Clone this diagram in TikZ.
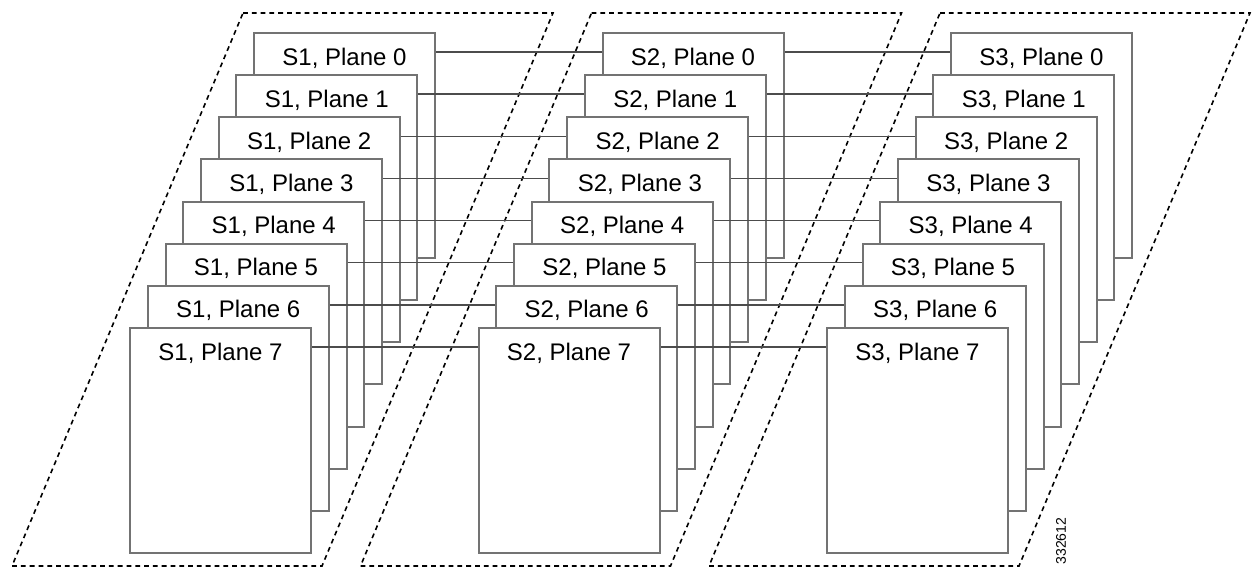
\documentclass[tikz,border=0pt]{standalone}
\usepackage{fontspec}
\setmainfont{Liberation Sans}
\usepackage{tikz}

\begin{document}
\begin{tikzpicture}[x=0.5pt, y=-0.5pt,
    plane/.style={draw=black!55, line width=1pt, fill=white, anchor=north west,
        minimum width=90.5pt, text height=16pt, text depth=96.5pt, inner ysep=0pt,
        font=\fontsize{12}{14}\selectfont},
    link/.style={draw=black!70, line width=0.75pt},
    zone/.style={draw=black, line width=0.8pt, dash pattern=on 2.4pt off 2pt}]
    \useasboundingbox (0,0) rectangle (1254,569);

    % Dashed stage outlines
    \draw[zone] (243,13) -- (553,13) -- (322,566) -- (12,566) -- cycle;
    \draw[zone] (591.5,13) -- (901.5,13) -- (670.5,566) -- (360.5,566) -- cycle;
    \draw[zone] (940,13) -- (1250,13) -- (1019,566) -- (709,566) -- cycle;

    % Stage 1 (back to front)
    \node[plane] (s1p0) at (253.0,32.0) {S1, Plane 0};
    \node[plane] (s1p1) at (235.3,74.1) {S1, Plane 1};
    \node[plane] (s1p2) at (217.6,116.3) {S1, Plane 2};
    \node[plane] (s1p3) at (199.9,158.4) {S1, Plane 3};
    \node[plane] (s1p4) at (182.2,200.6) {S1, Plane 4};
    \node[plane] (s1p5) at (164.5,242.7) {S1, Plane 5};
    \node[plane] (s1p6) at (146.7,284.8) {S1, Plane 6};
    \node[plane] (s1p7) at (129.0,327.0) {S1, Plane 7};

    % Stage 2
    \node[plane] (s2p0) at (601.5,32.0) {S2, Plane 0};
    \node[plane] (s2p1) at (583.8,74.1) {S2, Plane 1};
    \node[plane] (s2p2) at (566.1,116.3) {S2, Plane 2};
    \node[plane] (s2p3) at (548.4,158.4) {S2, Plane 3};
    \node[plane] (s2p4) at (530.7,200.6) {S2, Plane 4};
    \node[plane] (s2p5) at (513.0,242.7) {S2, Plane 5};
    \node[plane] (s2p6) at (495.2,284.8) {S2, Plane 6};
    \node[plane] (s2p7) at (477.5,327.0) {S2, Plane 7};

    % Stage 3
    \node[plane] (s3p0) at (950.0,32.0) {S3, Plane 0};
    \node[plane] (s3p1) at (932.3,74.1) {S3, Plane 1};
    \node[plane] (s3p2) at (914.6,116.3) {S3, Plane 2};
    \node[plane] (s3p3) at (896.9,158.4) {S3, Plane 3};
    \node[plane] (s3p4) at (879.2,200.6) {S3, Plane 4};
    \node[plane] (s3p5) at (861.5,242.7) {S3, Plane 5};
    \node[plane] (s3p6) at (843.7,284.8) {S3, Plane 6};
    \node[plane] (s3p7) at (826.0,327.0) {S3, Plane 7};

    % Links S1 -> S2
    \draw[link] ([yshift=-10pt]s1p0.north east) -- ([yshift=-10pt]s2p0.north west);
    \draw[link] ([yshift=-10pt]s1p1.north east) -- ([yshift=-10pt]s2p1.north west);
    \draw[link] ([yshift=-10pt]s1p2.north east) -- ([yshift=-10pt]s2p2.north west);
    \draw[link] ([yshift=-10pt]s1p3.north east) -- ([yshift=-10pt]s2p3.north west);
    \draw[link] ([yshift=-10pt]s1p4.north east) -- ([yshift=-10pt]s2p4.north west);
    \draw[link] ([yshift=-10pt]s1p5.north east) -- ([yshift=-10pt]s2p5.north west);
    \draw[link] ([yshift=-10pt]s1p6.north east) -- ([yshift=-10pt]s2p6.north west);
    \draw[link] ([yshift=-10pt]s1p7.north east) -- ([yshift=-10pt]s2p7.north west);

    % Links S2 -> S3
    \draw[link] ([yshift=-10pt]s2p0.north east) -- ([yshift=-10pt]s3p0.north west);
    \draw[link] ([yshift=-10pt]s2p1.north east) -- ([yshift=-10pt]s3p1.north west);
    \draw[link] ([yshift=-10pt]s2p2.north east) -- ([yshift=-10pt]s3p2.north west);
    \draw[link] ([yshift=-10pt]s2p3.north east) -- ([yshift=-10pt]s3p3.north west);
    \draw[link] ([yshift=-10pt]s2p4.north east) -- ([yshift=-10pt]s3p4.north west);
    \draw[link] ([yshift=-10pt]s2p5.north east) -- ([yshift=-10pt]s3p5.north west);
    \draw[link] ([yshift=-10pt]s2p6.north east) -- ([yshift=-10pt]s3p6.north west);
    \draw[link] ([yshift=-10pt]s2p7.north east) -- ([yshift=-10pt]s3p7.north west);

    % Figure number
    \node[rotate=90, font=\fontsize{7}{8}\selectfont, inner sep=0pt] (fignum) at (1061,541) {332612};
\end{tikzpicture}
\end{document}
